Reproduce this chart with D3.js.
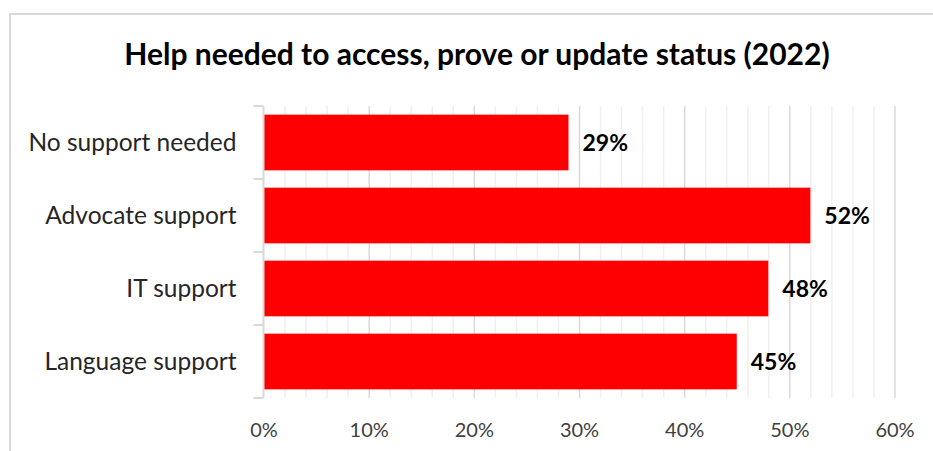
<!DOCTYPE html>
<html>
<head>
<meta charset="utf-8">
<script src="https://cdn.jsdelivr.net/npm/d3@7"></script>
<style>
  html, body { margin: 0; padding: 0; background: #fff; }
  svg { display: block; }
  text { font-family: Lato, "Open Sans", sans-serif; }
</style>
</head>
<body>
<svg id="chart" width="933" height="451"></svg>
<script>
// Share of respondents needing each kind of help (%)
const categories = ["No support needed", "Advocate support", "IT support", "Language support"];
const values = [29, 52, 48, 45];
const majorTicks = [0, 10, 20, 30, 40, 50, 60];
const minorTicks = [2, 4, 6, 8, 12, 14, 16, 18, 22, 24, 26, 28, 32, 34, 36, 38, 42, 44, 46, 48, 52, 54, 56, 58];
const titleText = "Help needed to access, prove or update status (2022)";

const svg = d3.select("#chart");
const W = 933, H = 451;
const plot = { left: 263.5, right: 894.5, top: 106, bottom: 398 };

// outer chart frame
svg.append("rect")
  .attr("x", 10).attr("y", 14)
  .attr("width", W + 20).attr("height", H + 20)
  .attr("fill", "#fff")
  .attr("stroke", "#d9d9d9").attr("stroke-width", 2);

svg.append("text")
  .attr("x", 477).attr("y", 64.5)
  .attr("text-anchor", "middle")
  .attr("font-size", 30).attr("font-weight", 700)
  .attr("fill", "#000")
  .text(titleText);

const x = d3.scaleLinear().domain([0, 60]).range([plot.left, plot.right]);
const y = d3.scaleBand().domain(categories)
  .range([plot.top, plot.bottom])
  .paddingInner(0.237).paddingOuter(0.1185);

const plotH = plot.bottom - plot.top;

// minor gridlines
svg.append("g")
  .attr("transform", `translate(0,${plot.bottom})`)
  .call(d3.axisBottom(x).tickValues(minorTicks).tickSize(-plotH).tickFormat(""))
  .call(g => g.select(".domain").remove())
  .call(g => g.selectAll("line").attr("stroke", "#f0f0f0").attr("stroke-width", 1.5));

// major gridlines
svg.append("g")
  .attr("transform", `translate(0,${plot.bottom})`)
  .call(d3.axisBottom(x).tickValues(majorTicks.slice(1)).tickSize(-plotH).tickFormat(""))
  .call(g => g.select(".domain").remove())
  .call(g => g.selectAll("line").attr("stroke", "#d9d9d9").attr("stroke-width", 1.5));

// x tick labels
svg.append("g")
  .attr("transform", `translate(0,${plot.bottom})`)
  .call(d3.axisBottom(x).tickValues(majorTicks).tickSize(0).tickFormat(d => d + "%"))
  .call(g => g.select(".domain").remove())
  .call(g => g.selectAll("text")
    .attr("y", 38.5).attr("dy", 0)
    .attr("font-size", 20).attr("fill", "#404040")
    .style("font-family", "Lato, 'Open Sans', sans-serif"));

// bars
svg.append("g").selectAll("rect")
  .data(values)
  .join("rect")
  .attr("x", x(0))
  .attr("y", (d, i) => y(categories[i]))
  .attr("width", d => x(d) - x(0))
  .attr("height", y.bandwidth())
  .attr("fill", "#ff0000");

// y axis with category-boundary ticks
svg.append("g")
  .attr("transform", `translate(${plot.left},0)`)
  .call(d3.axisLeft(y).tickSize(0).tickPadding(27))
  .call(g => g.select(".domain").remove())
  .call(g => g.selectAll("text")
    .attr("dy", "0.33em")
    .attr("font-size", 24.5).attr("fill", "#262626")
    .style("font-family", "Lato, 'Open Sans', sans-serif"));

const edgeOffset = (y.step() - y.bandwidth()) / 2;
const boundaries = categories.map(c => y(c) - edgeOffset).concat([plot.bottom]);
svg.append("g").selectAll("line")
  .data(boundaries)
  .join("line")
  .attr("x1", plot.left - 10).attr("x2", plot.left)
  .attr("y1", d => d).attr("y2", d => d)
  .attr("stroke", "#d9d9d9").attr("stroke-width", 2);
svg.append("line")
  .attr("x1", plot.left).attr("x2", plot.left)
  .attr("y1", plot.top).attr("y2", plot.bottom)
  .attr("stroke", "#d9d9d9").attr("stroke-width", 2);

// value labels
svg.append("g").selectAll("text")
  .data(values)
  .join("text")
  .attr("x", d => x(d) + 14)
  .attr("y", (d, i) => y(categories[i]) + y.bandwidth() / 2 + 8.5)
  .attr("font-size", 23).attr("font-weight", 700)
  .attr("fill", "#000")
  .text(d => d + "%");
</script>
</body>
</html>
